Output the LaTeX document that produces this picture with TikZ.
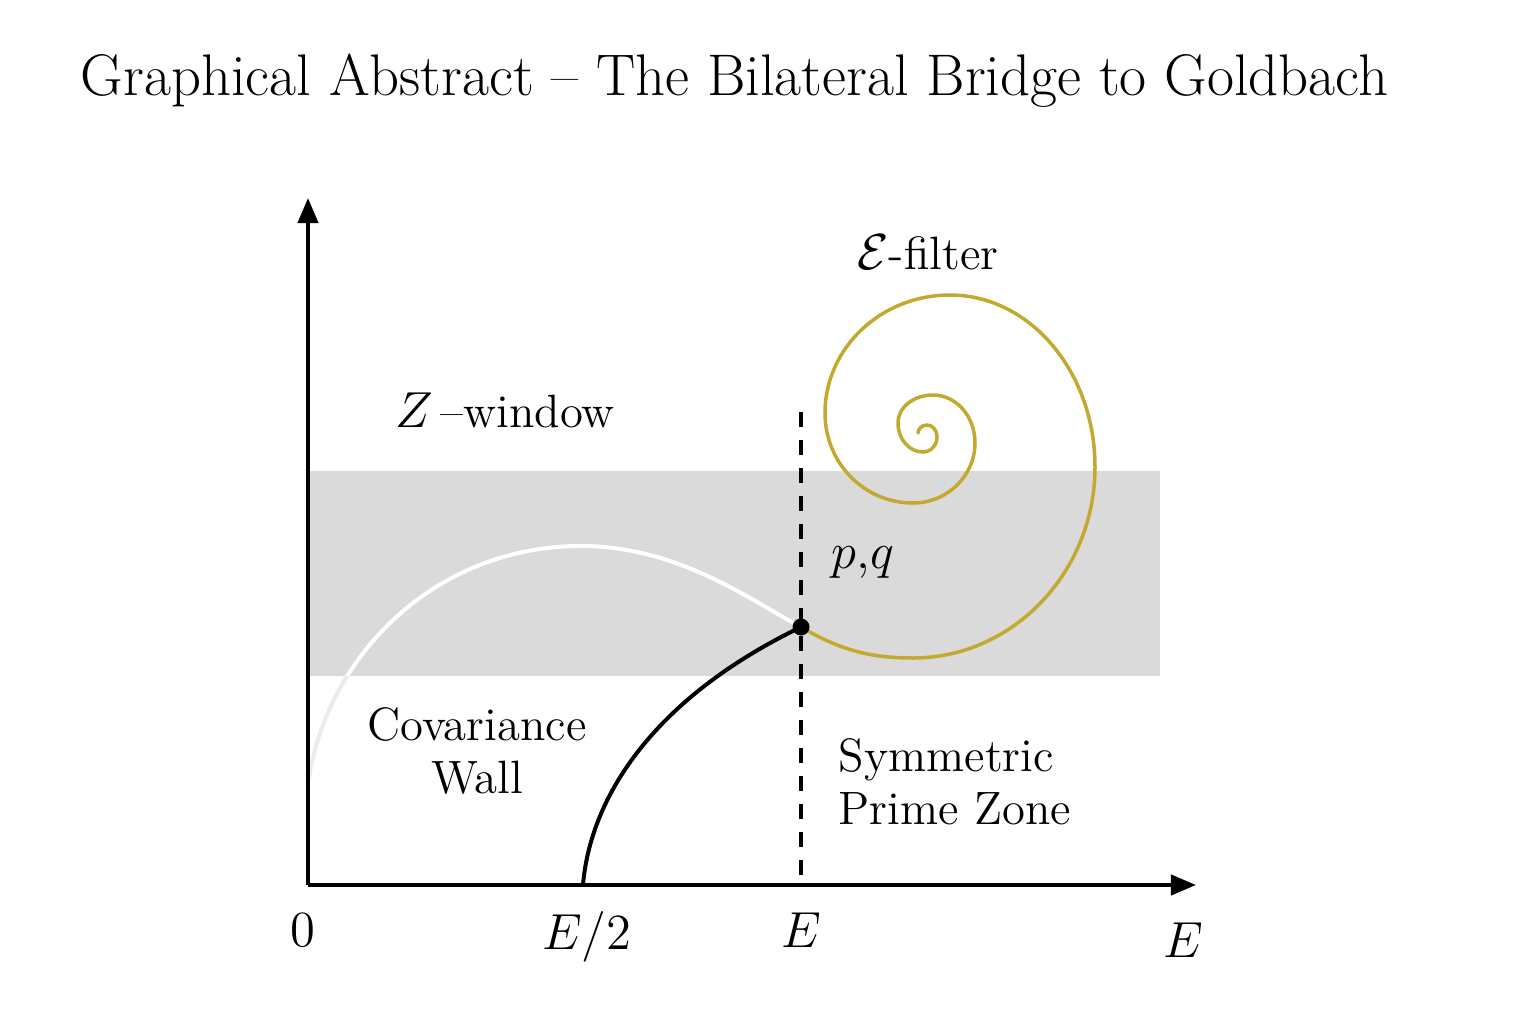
\documentclass[tikz,border=0pt]{standalone}
\usetikzlibrary{arrows.meta}
\definecolor{bandgray}{HTML}{DADADA}
\definecolor{spiralgold}{HTML}{C4A92F}
\begin{document}
\begin{tikzpicture}[x=0.01cm,y=-0.01cm,
  lbl/.style={inner sep=0pt,font=\fontsize{13.3}{15.2}\selectfont},
  axis/.style={line width=0.04cm,-{Triangle[length=0.25cm,width=0.2cm]}},
  curve/.style={line width=0.04cm,line cap=round}]
\useasboundingbox (0,0) rectangle (1536,1024);
% title
\node[anchor=base west,inner sep=0pt,font=\fontsize{16.7}{20}\selectfont] (title) at (80,95) {Graphical Abstract -- The Bilateral Bridge to Goldbach};
% band
\fill[bandgray] (310,471) rectangle (1160,676);
% coordinates
\coordinate (O) at (308,885);
\coordinate (ytop) at (308,198);
\coordinate (xend) at (1196,885);
\coordinate (dtop) at (801,412);
\coordinate (dbot) at (801,885);
\coordinate (half) at (583,885);
\coordinate (wstart) at (309,777);
% white curve
\draw[curve,white] (wstart) .. controls (330,650) and (440,545) .. (583,546) .. controls (680,547) and (750,600) .. (801,627);
\begin{scope}
\clip (300,676) rectangle (400,800);
\draw[curve,black!8] (wstart) .. controls (330,650) and (440,545) .. (583,546);
\end{scope}
% dashed line
\draw[line width=0.04cm,dash pattern=on 0.15cm off 0.13cm] (dtop) -- (dbot);
% spiral
\draw[spiralgold,line width=0.035cm,line cap=round]
  (801,627) .. controls (840,650) and (870,658) .. (913,658)
  .. controls (1013,658) and (1095,572) .. (1095,467)
  .. controls (1095,372) and (1030,295) .. (950,295)
  .. controls (881,295) and (825,348) .. (825,413)
  .. controls (825,463) and (864,503) .. (913,503)
  .. controls (947,503) and (975,476) .. (975,443)
  .. controls (975,416) and (956,395) .. (933,395)
  .. controls (914,395) and (898,407) .. (898,423)
  .. controls (898,439) and (909,452) .. (923,452)
  .. controls (931,452) and (937,445) .. (937,437)
  .. controls (937,430) and (932.5,425) .. (927,425)
  .. controls (922,425) and (918,429) .. (918,433);
% black curve
\draw[curve,black] (half) .. controls (590,800) and (650,700) .. (801,627);
\node[circle,fill=black,inner sep=0pt,minimum size=0.17cm] (pt) at (801,627) {};
% axes
\draw[axis] (O) -- (ytop);
\draw[axis] (O) -- (xend);
% labels
\node[lbl] (zw) at (505,410) {$Z$\,--window};
\node[lbl] (ef) at (928,252) {$\mathcal{E}$-filter};
\node[lbl] (pq) at (863,563) {$p{,}q$};
\node[lbl,align=center] (cw) at (477,751) {Covariance\\Wall};
\node[lbl,align=left,anchor=west] (spz) at (838,782) {Symmetric\\Prime Zone};
\node[lbl] (l0) at (303,930) {$0$};
\node[lbl] (lh) at (587,937) {$E/2$};
\node[lbl] (le) at (801,930) {$E$};
\node[lbl] (lx) at (1183,940) {$E$};
\end{tikzpicture}
\end{document}
